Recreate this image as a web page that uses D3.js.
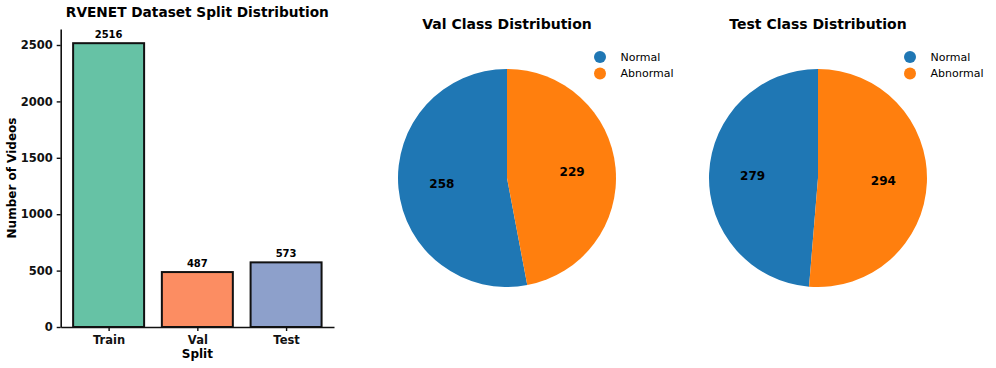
<!DOCTYPE html>
<html>
<head>
<meta charset="utf-8">
<script src="https://cdn.jsdelivr.net/npm/d3@7"></script>
<style>
  body { margin: 0; background: #fff; }
  svg { font-family: "DejaVu Sans", sans-serif; }
</style>
</head>
<body>
<svg id="chart" width="996" height="368"></svg>
<script>
const splits = ["Train", "Val", "Test"];
const splitCounts = [2516, 487, 573];
const splitColors = ["#66c2a5", "#fc8d62", "#8da0cb"];
const yTicks = [0, 500, 1000, 1500, 2000, 2500];

const classes = ["Normal", "Abnormal"];
const valCounts = [258, 229];
const testCounts = [279, 294];
const classColors = ["#1f77b4", "#ff7f0e"];

const svg = d3.select("#chart");

// ---- bar chart ----
const bar = { left: 60.7, right: 334, top: 29, bottom: 327 };

const x = d3.scaleLinear().domain([-0.54, 2.54]).range([bar.left, bar.right]);
const y = d3
  .scaleLinear()
  .domain([0, d3.max(splitCounts) * 1.05])
  .range([bar.bottom, bar.top]);

const g = svg.append("g");

g.selectAll("rect.bar")
  .data(splits)
  .enter()
  .append("rect")
  .attr("class", "bar")
  .attr("x", (d, i) => x(i - 0.4))
  .attr("width", x(0.4) - x(-0.4))
  .attr("y", (d, i) => y(splitCounts[i]))
  .attr("height", (d, i) => y(0) - y(splitCounts[i]))
  .attr("fill", (d, i) => splitColors[i])
  .attr("stroke", "#111")
  .attr("stroke-width", 2);

g.selectAll("text.val")
  .data(splits)
  .enter()
  .append("text")
  .attr("x", (d, i) => x(i))
  .attr("y", (d, i) => y(splitCounts[i]) - 5)
  .attr("text-anchor", "middle")
  .attr("font-size", 10)
  .attr("font-weight", "bold")
  .text((d, i) => splitCounts[i]);

const yAxis = g
  .append("g")
  .attr("transform", `translate(${bar.left},0)`)
  .call(
    d3
      .axisLeft(y)
      .tickValues(yTicks)
      .tickFormat(d3.format("d"))
      .tickSize(4)
      .tickPadding(4)
      .tickSizeOuter(0)
  );
yAxis.select(".domain").attr("stroke", "#111").attr("stroke-width", 1.6);
yAxis.selectAll(".tick line").attr("stroke", "#111").attr("stroke-width", 1.4);
yAxis
  .selectAll(".tick text")
  .attr("font-size", 11.5)
  .attr("font-weight", "bold")
  .attr("fill", "#111")
  .attr("font-family", "DejaVu Sans");

const xAxis = g
  .append("g")
  .attr("transform", `translate(0,${bar.bottom})`)
  .call(
    d3
      .axisBottom(x)
      .tickValues([0, 1, 2])
      .tickFormat((d) => splits[d])
      .tickSize(4)
      .tickPadding(5)
      .tickSizeOuter(0)
  );
xAxis.select(".domain").attr("stroke", "#111").attr("stroke-width", 1.6);
xAxis.selectAll(".tick line").attr("stroke", "#111").attr("stroke-width", 1.4);
xAxis
  .selectAll(".tick text")
  .attr("font-size", 11.5)
  .attr("font-weight", "bold")
  .attr("fill", "#111")
  .attr("font-family", "DejaVu Sans");

g.append("text")
  .attr("x", (bar.left + bar.right) / 2)
  .attr("y", 358)
  .attr("text-anchor", "middle")
  .attr("font-size", 12)
  .attr("font-weight", "bold")
  .text("Split");

g.append("text")
  .attr("transform", `translate(16,${(bar.top + bar.bottom) / 2}) rotate(-90)`)
  .attr("text-anchor", "middle")
  .attr("font-size", 12)
  .attr("font-weight", "bold")
  .text("Number of Videos");

g.append("text")
  .attr("x", (bar.left + bar.right) / 2)
  .attr("y", 17)
  .attr("text-anchor", "middle")
  .attr("font-size", 13.7)
  .attr("font-weight", "bold")
  .text("RVENET Dataset Split Distribution");

// ---- pies ----
const radius = 109;
const pies = [
  { title: "Val Class Distribution", counts: valCounts, cx: 507, cy: 178, lx: 600 },
  { title: "Test Class Distribution", counts: testCounts, cx: 818, cy: 178, lx: 910 },
];

// matplotlib style: start at 12 o'clock, go counterclockwise
const pie = d3.pie().sort(null).startAngle(0).endAngle(-2 * Math.PI);
const arc = d3.arc().innerRadius(0).outerRadius(radius);
const labelArc = d3.arc().innerRadius(radius * 0.6).outerRadius(radius * 0.6);

pies.forEach((p) => {
  const pg = svg.append("g").attr("transform", `translate(${p.cx},${p.cy})`);
  const arcs = pie(p.counts);

  pg.selectAll("path")
    .data(arcs)
    .enter()
    .append("path")
    .attr("d", arc)
    .attr("fill", (d, i) => classColors[i]);

  pg.selectAll("text.lbl")
    .data(arcs)
    .enter()
    .append("text")
    .attr("transform", (d) => `translate(${labelArc.centroid(d)})`)
    .attr("text-anchor", "middle")
    .attr("dy", "0.35em")
    .attr("font-size", 12)
    .attr("font-weight", "bold")
    .text((d) => d.data);

  svg
    .append("text")
    .attr("x", p.cx)
    .attr("y", 29)
    .attr("text-anchor", "middle")
    .attr("font-size", 14)
    .attr("font-weight", "bold")
    .text(p.title);

  const lg = svg.append("g");
  classes.forEach((c, i) => {
    lg.append("circle")
      .attr("cx", p.lx)
      .attr("cy", 57 + i * 16.5)
      .attr("r", 6)
      .attr("fill", classColors[i]);
    lg.append("text")
      .attr("x", p.lx + 20.5)
      .attr("y", 57 + i * 16.5)
      .attr("dy", "0.35em")
      .attr("font-size", 11)
      .text(c);
  });
});
</script>
</body>
</html>
